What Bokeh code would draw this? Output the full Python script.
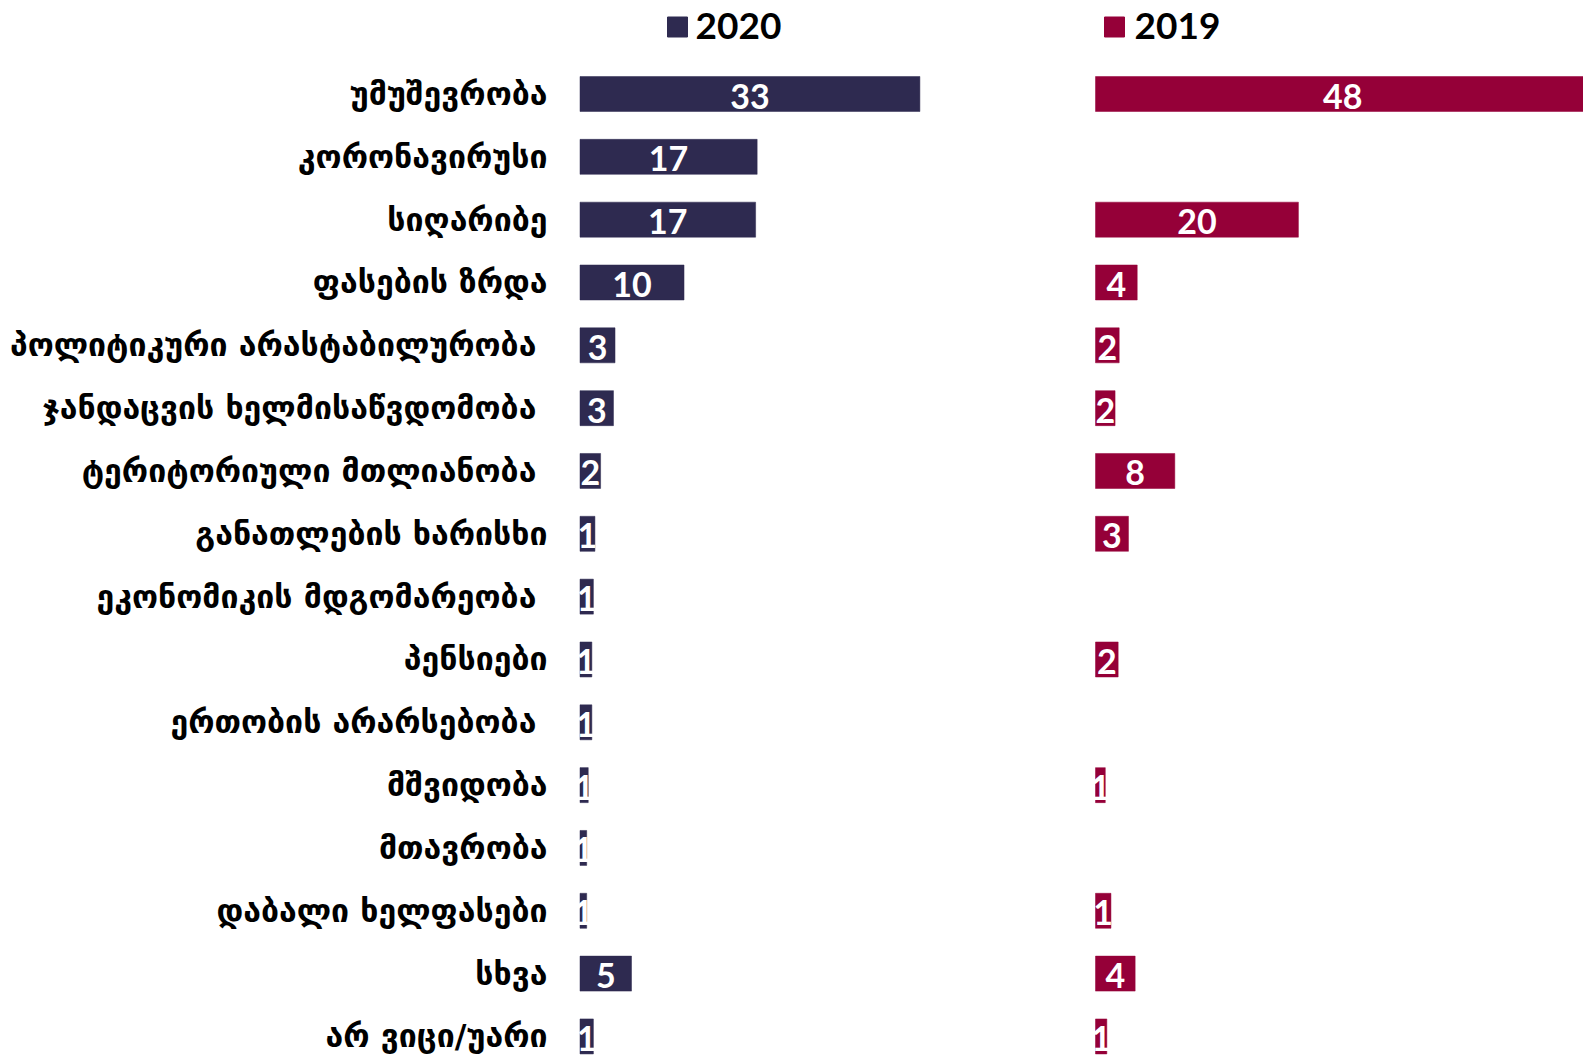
from bokeh.plotting import figure
from bokeh.layouts import row
from bokeh.models import ColumnDataSource, Range1d
from bokeh.core.properties import value
from bokeh.embed import file_html
from bokeh.resources import INLINE

categories = [
    "უმუშევრობა",
    "კორონავირუსი",
    "სიღარიბე",
    "ფასების ზრდა",
    "პოლიტიკური არასტაბილურობა ",
    "ჯანდაცვის ხელმისაწვდომობა ",
    "ტერიტორიული მთლიანობა ",
    "განათლების ხარისხი",
    "ეკონომიკის მდგომარეობა ",
    "პენსიები",
    "ერთობის არარსებობა ",
    "მშვიდობა",
    "მთავრობა",
    "დაბალი ხელფასები",
    "სხვა",
    "არ ვიცი/უარი",
]
values_2020 = [33.0, 17.2, 17.05, 10.1, 3.4, 3.25, 2.0, 1.45, 1.3, 1.15, 1.15, 0.8, 0.65, 0.65, 5.0, 1.3]
labels_2020 = ["33", "17", "17", "10", "3", "3", "2", "1", "1", "1", "1", "1", "1", "1", "5", "1"]
values_2019 = [48.0, None, 19.7, 4.05, 2.3, 1.9, 7.7, 3.2, None, 2.2, None, 0.95, None, 1.5, 3.85, 1.1]
labels_2019 = ["48", None, "20", "4", "2", "2", "8", "3", None, "2", None, "1", None, "1", "4", "1"]
series_names = ["2020", "2019"]

NAVY = "#2E2A50"
CRIMSON = "#950038"

# layout constants (pixels)
SCALE = 10.3          # px per percentage point
ROW = 62.83           # px per row
H = 1055
W1 = 1088
W2 = 1583 - W1
ZERO1 = 579.5         # px of zero in left figure
ZERO2 = 1095 - W1     # px of zero in right figure
TOP = -93.5 / ROW
BOTTOM = TOP + H / ROW
LEGEND_Y = (26.5 - 93.5) / ROW


def make_fig(width, zero_px):
    start = -zero_px / SCALE
    p = figure(width=width, height=H, output_backend="svg", toolbar_location=None,
               x_range=Range1d(start, start + width / SCALE),
               y_range=Range1d(BOTTOM, TOP), min_border=0)
    p.axis.visible = False
    p.grid.visible = False
    p.outline_line_color = None
    p.background_fill_color = "white"
    p.border_fill_color = "white"
    return p


def add_bars(p, vals, labs, color, name, legend_x_px, legend_text_x_px):
    idx = [i for i, v in enumerate(vals) if v is not None]
    src = ColumnDataSource(dict(
        y=idx,
        v=[vals[i] for i in idx],
        mid=[vals[i] / 2 for i in idx],
        lab=[labs[i] for i in idx],
    ))
    p.hbar(y="y", left=0, right="v", height=35 / ROW, source=src,
           fill_color=color, line_color=color, line_width=0.5)
    p.text(x="mid", y="y", text="lab", source=src, text_color="white",
           text_font=value("Lato"), text_font_style="bold", text_font_size="34px",
           text_align="center", text_baseline="middle", y_offset=2)
    p.scatter(x=[legend_x_px / SCALE], y=[LEGEND_Y], marker="square", size=20,
              fill_color=color, line_color=color)
    p.text(x=[legend_text_x_px / SCALE], y=[LEGEND_Y], text=[name], text_color="black",
           text_font=value("Lato"), text_font_style="bold", text_font_size="37px",
           text_align="left", text_baseline="middle", y_offset=-1)


p1 = make_fig(W1, ZERO1)
p1.text(x=[(547 - 579.5) / SCALE] * len(categories), y=list(range(len(categories))),
        text=categories, text_color="black", text_font=value("DejaVu Sans"),
        text_font_style="bold", text_font_size="32px", text_align="right",
        text_baseline="middle")
add_bars(p1, values_2020, labels_2020, NAVY, series_names[0], 677 - 579.5, 695 - 579.5)

p2 = make_fig(W2, ZERO2)
add_bars(p2, values_2019, labels_2019, CRIMSON, series_names[1], 1114 - 1095, 1134 - 1095)

layout = row(p1, p2, spacing=0)
open("out.html", "w").write(file_html(layout, INLINE))
